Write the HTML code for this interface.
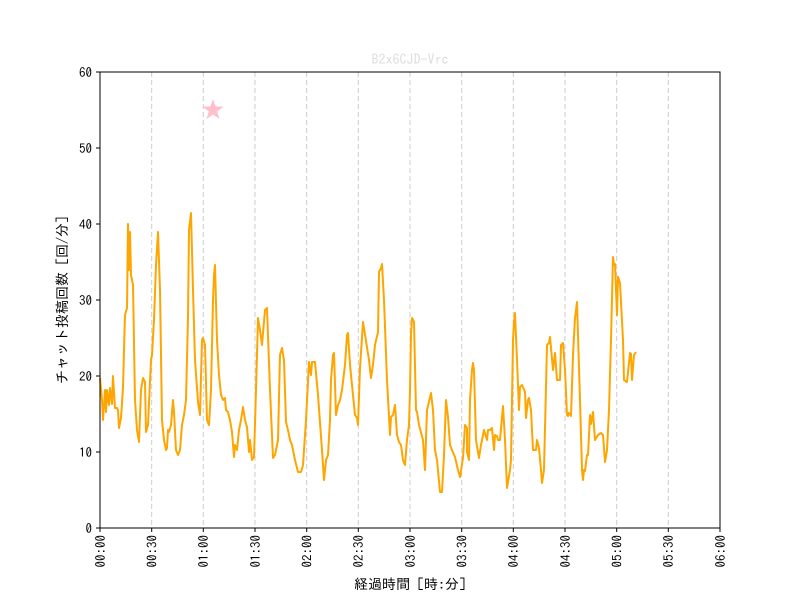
<!DOCTYPE html>
<html><head><meta charset="utf-8"><style>body{margin:0;background:#fff}svg{display:block}text{font-family:"IPAGothic","Noto Sans CJK JP",sans-serif}</style></head>
<body>
<svg width="800" height="600" viewBox="0 0 800 600" xmlns="http://www.w3.org/2000/svg">
<rect width="800" height="600" fill="#fff"/>
<g stroke="#ccc" stroke-width="1" stroke-dasharray="5,3">
<line x1="151.7" y1="72" x2="151.7" y2="528"/><line x1="203.3" y1="72" x2="203.3" y2="528"/><line x1="255" y1="72" x2="255" y2="528"/><line x1="306.7" y1="72" x2="306.7" y2="528"/><line x1="358.3" y1="72" x2="358.3" y2="528"/><line x1="410" y1="72" x2="410" y2="528"/><line x1="461.7" y1="72" x2="461.7" y2="528"/><line x1="513.3" y1="72" x2="513.3" y2="528"/><line x1="565" y1="72" x2="565" y2="528"/><line x1="616.7" y1="72" x2="616.7" y2="528"/><line x1="668.3" y1="72" x2="668.3" y2="528"/>
</g>
<polyline fill="none" stroke="#ffa500" stroke-width="2" stroke-linejoin="round" points="100,378 102,400 103,420 105,390 106,412 107,390 109,405 110,388 112,404 113,376 115,408 117,408 118,410 119,428 121,418 123,388 124,350 125,315 127,308 128,224 129,270 130,232 131,275 133,285 135,400 137,430 139,442 141,390 143,378 145,382 146,432 148,425 151,360 152,355 154,320 156,265 158,232 160,290 162,420 164,440 166,450 167,448 168,430 169,432 171,425 173,400 174,412 176,450 178,455 180,450 182,425 184,415 186,400 188,317 189,230 191,213 193,290 195,360 198,402 200,415 202,340 203,338 205,345 207,420 209,425 211,390 213,300 214,275 215,265 217,340 219,375 221,395 223,400 225,398 226,410 228,412 230,420 232,432 234,457 235,445 237,450 239,430 241,420 243,407 245,420 247,427 249,452 250,440 252,460 254,457 256,390 258,318 260,330 262,345 265,310 267,308 270,390 273,458 275,455 278,440 280,355 282,348 284,360 286,422 288,430 290,440 292,445 295,460 298,472 301,472 303,465 306,420 309,362 311,375 312,362 315,362 318,395 322,450 324,480 326,460 328,455 330,420 331,380 333,355 334,353 336,415 338,405 340,400 342,390 345,365 347,335 348,333 350,365 352,385 355,415 357,418 358,425 360,368 363,322 369,360 371,378 373,365 375,345 378,332 379,272 381,268 382,264 384,300 387,380 390,435 391,417 393,415 395,405 397,435 399,442 401,445 403,460 405,465 407,440 409,425 410,390 411,335 412,318 414,322 416,410 417,412 419,425 423,440 425,470 427,410 431,393 433,410 435,450 437,460 440,492 442,492 444,455 446,400 448,417 450,445 452,450 455,457 458,470 460,477 463,458 465,425 467,428 467,452 469,460 470,400 472,370 473,363 474,370 476,440 479,458 481,445 482,440 484,430 487,440 488,430 490,430 492,428 494,450 495,435 497,436 498,440 500,440 503,406 505,440 507,488 510,470 511,460 513,340 514,322 515,313 517,360 519,410 520,387 522,385 525,392 526,418 528,400 529,398 531,410 533,450 536,450 537,440 539,448 541,470 542,483 544,470 547,345 549,343 550,337 553,370 555,353 557,380 560,380 561,345 563,343 565,370 567,415 568,416 569,413 571,416 573,355 575,318 577,302 580,400 582,470 583,480 584,470 585,471 587,455 588,455 590,415 591,424 593,412 595,440 598,435 601,433 603,435 605,462 607,450 609,410 611,340 613,257 614,265 615,264 617,315 618,277 620,283 623,340 624,380 627,382 630,353 631,354 632,380 634,355 636,352"/>
<polygon points="213,99 215.6,106.4 223.5,106.6 217.2,111.4 219.5,119 213,114.5 206.5,119 208.8,111.4 202.5,106.6 210.4,106.4" fill="#ffc0cb"/>
<rect x="100" y="72" width="620" height="456" fill="none" stroke="#000" stroke-width="1"/>
<g stroke="#000"><line x1="96" y1="528" x2="100" y2="528"/><line x1="96" y1="452" x2="100" y2="452"/><line x1="96" y1="376" x2="100" y2="376"/><line x1="96" y1="300" x2="100" y2="300"/><line x1="96" y1="224" x2="100" y2="224"/><line x1="96" y1="148" x2="100" y2="148"/><line x1="96" y1="72" x2="100" y2="72"/></g>
<g font-size="13" text-anchor="end"><text x="92" y="533">0</text><text x="92" y="457">10</text><text x="92" y="381">20</text><text x="92" y="305">30</text><text x="92" y="229">40</text><text x="92" y="153">50</text><text x="92" y="77">60</text></g>
<g stroke="#000"><line x1="100" y1="528" x2="100" y2="532"/><line x1="151.7" y1="528" x2="151.7" y2="532"/><line x1="203.3" y1="528" x2="203.3" y2="532"/><line x1="255" y1="528" x2="255" y2="532"/><line x1="306.7" y1="528" x2="306.7" y2="532"/><line x1="358.3" y1="528" x2="358.3" y2="532"/><line x1="410" y1="528" x2="410" y2="532"/><line x1="461.7" y1="528" x2="461.7" y2="532"/><line x1="513.3" y1="528" x2="513.3" y2="532"/><line x1="565" y1="528" x2="565" y2="532"/><line x1="616.7" y1="528" x2="616.7" y2="532"/><line x1="668.3" y1="528" x2="668.3" y2="532"/><line x1="720" y1="528" x2="720" y2="532"/></g>
<g font-size="13" text-anchor="end">
<text transform="translate(104.8,535) rotate(-90)">00:00</text><text transform="translate(156.5,535) rotate(-90)">00:30</text><text transform="translate(208.1,535) rotate(-90)">01:00</text><text transform="translate(259.8,535) rotate(-90)">01:30</text><text transform="translate(311.5,535) rotate(-90)">02:00</text><text transform="translate(363.1,535) rotate(-90)">02:30</text><text transform="translate(414.8,535) rotate(-90)">03:00</text><text transform="translate(466.5,535) rotate(-90)">03:30</text><text transform="translate(518.1,535) rotate(-90)">04:00</text><text transform="translate(569.8,535) rotate(-90)">04:30</text><text transform="translate(621.5,535) rotate(-90)">05:00</text><text transform="translate(673.1,535) rotate(-90)">05:30</text><text transform="translate(724.8,535) rotate(-90)">06:00</text>
</g>
<text x="410" y="589" font-size="14" text-anchor="middle">経過時間 [時:分]</text>
<text transform="translate(67,300) rotate(-90)" font-size="14" text-anchor="middle">チャット投稿回数 [回/分]</text>
<text x="410" y="64" font-size="14" fill="#ddd" text-anchor="middle">B2x6CJD-Vrc</text>
</svg>
</body></html>
